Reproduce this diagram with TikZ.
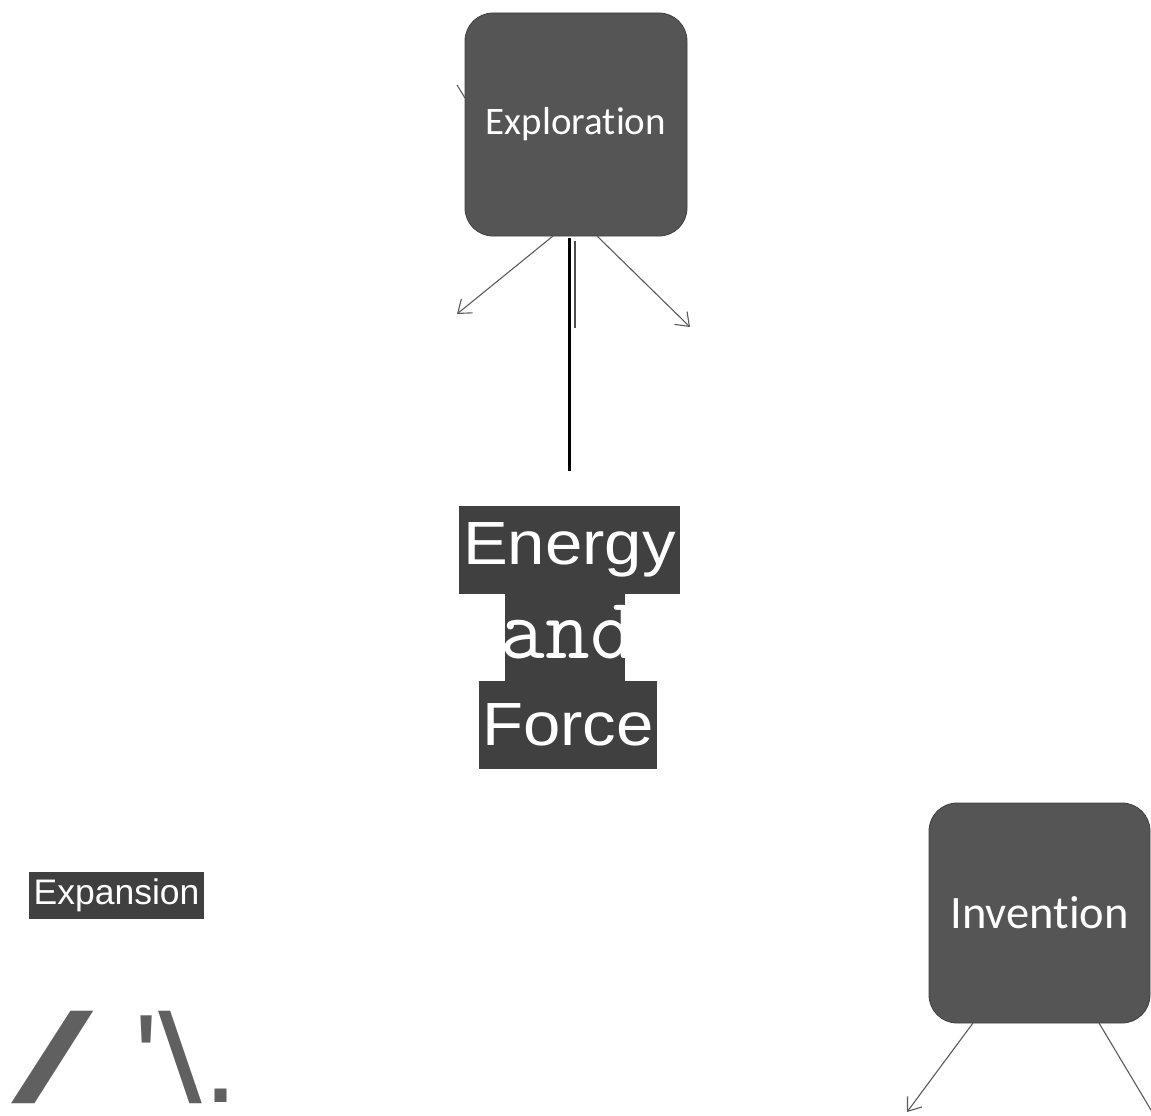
\documentclass[tikz,border=0pt]{standalone}
\usepackage{graphicx}
\usepackage{fontspec}
\setmainfont{Liberation Sans}
\newfontfamily\plainarial{Liberation Sans}
\newfontfamily\calib[Ligatures=NoCommon]{Carlito}
\usetikzlibrary{arrows.meta,calc}
\definecolor{boxgray}{HTML}{555555}
\definecolor{hlgray}{HTML}{404040}
\definecolor{linegray}{HTML}{5A5A5A}
\definecolor{glyphgray}{HTML}{606060}
\newcommand{\nodepth}[1]{\raisebox{0pt}[\height][0pt]{#1}}
\tikzset{
  topicbox/.style={rectangle, rounded corners=28pt, fill=boxgray, draw=black!75, line width=0.8pt,
    text=white, inner sep=0pt},
  hlline/.style={rectangle, fill=hlgray, text=white, inner sep=0pt},
  glyph/.style={text=glyphgray, inner sep=0pt, anchor=base west},
  thinarrow/.style={draw=linegray, line width=1.1pt, -{Straight Barb[length=12pt,width=18pt,line width=1.1pt]}},
}
\begin{document}
\begin{tikzpicture}[x=1pt,y=-1pt]
\useasboundingbox (0,0) rectangle (1151,1116);

% Exploration
\node[topicbox, minimum width=222pt, minimum height=223pt, font=\calib\fontsize{39}{40}\selectfont] (expl) at (576,124.5) {\raisebox{3pt}{Exploration}};
\coordinate (el) at (553,236);
\coordinate (er) at (597,236);
\coordinate (elend) at (457,314);
\coordinate (erend) at (690,327);
\draw[thinarrow] (el) -- (elend);
\draw[thinarrow] (er) -- (erend);
\coordinate (stubA) at (457,85);
\coordinate (stubB) at (465,98);
\draw[draw=linegray, line width=1.1pt] (stubA) -- (stubB);

% vertical lines
\coordinate (vtop) at (569,238);
\coordinate (vbot) at (569,471);
\draw[black, line width=3pt] (vtop) -- (vbot);
\coordinate (v2top) at (575,241);
\coordinate (v2bot) at (575,328);
\draw[black!70, line width=2.6pt] (v2top) -- (v2bot);

% Energy and Force
\node[hlline, minimum width=221pt, minimum height=88pt, font=\fontsize{61}{61}\selectfont] (energy) at (569.5,550) {\scalebox{1.1}[1]{Energy}};
\node[hlline, minimum width=120pt, minimum height=87pt] (and) at (565,637.5) {};
\node[text=white, inner sep=0pt, anchor=base, font=\ttfamily\fontsize{87}{87}\selectfont] (andtxt) at (568,658) {and};
\node[hlline, minimum width=178pt, minimum height=88pt, font=\fontsize{61}{61}\selectfont] (force) at (568,725) {\scalebox{1.1}[1]{Force}};

% Expansion
\node[hlline, minimum width=175pt, minimum height=47pt, font=\fontsize{35.5}{35.5}\selectfont] (expan) at (116.5,895.5) {Expansion};

% glyphs
\node[glyph, font=\plainarial\fontsize{126}{126}\selectfont] (gslash) at (11,1102) {\nodepth{\scalebox{2.35}[1]{/}}};
\node[glyph, font=\plainarial\fontsize{126}{126}\selectfont] (gquote) at (134.5,1102) {\nodepth{'}};
\node[glyph, font=\plainarial\fontsize{126}{126}\selectfont] (gback) at (158,1102) {\nodepth{\scalebox{1.25}[1]{\textbackslash}}};
\node[glyph, font=\plainarial\fontsize{126}{126}\selectfont] (gdot) at (203,1102) {\nodepth{.}};

% Invention
\node[topicbox, minimum width=221pt, minimum height=220pt, font=\calib\fontsize{46.5}{47}\selectfont] (inv) at (1039.5,913) {Invention};
\coordinate (il) at (973,1023);
\coordinate (ir) at (1099,1023);
\coordinate (ilend) at (907,1112);
\coordinate (irend) at (1160,1125);
\draw[thinarrow] (il) -- (ilend);
\draw[thinarrow] (ir) -- (irend);
\end{tikzpicture}
\end{document}
